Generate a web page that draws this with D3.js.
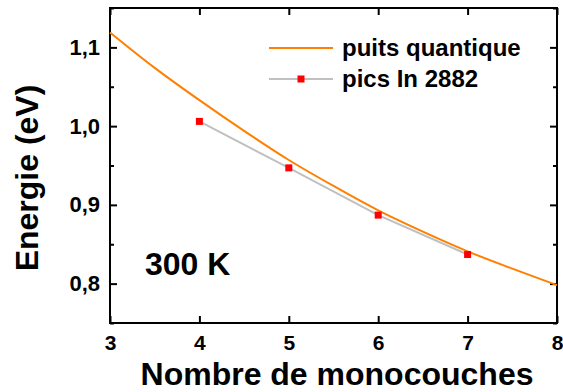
<!DOCTYPE html>
<html><head><meta charset="utf-8">
<script src="https://cdn.jsdelivr.net/npm/d3@7"></script>
<style>body{margin:0;background:#fff}svg{display:block}text{font-family:"Liberation Sans",Arial,sans-serif;font-weight:bold}</style>
</head><body>
<script>
const curveX = [3, 3.5, 4, 4.5, 5, 5.5, 6, 6.5, 7, 7.5, 8];
const curveY = [1.119, 1.074, 1.033, 0.994, 0.957, 0.924, 0.893, 0.866, 0.841, 0.819, 0.798];
const picsX = [4, 5, 6, 7];
const picsY = [1.006, 0.947, 0.887, 0.837];
const xTicks = [3, 4, 5, 6, 7, 8];
const yTicks = [0.8, 0.9, 1.0, 1.1];
const yMinor = [0.75, 0.85, 0.95, 1.05, 1.15];
const fmt = d => d3.format(".1f")(d).replace(".", ",");

const W = 563, H = 392;
const m = {l:110, r:557, t:8, b:323};
const svg = d3.select("body").append("svg").attr("width", W).attr("height", H);
const x = d3.scaleLinear().domain([3, 8]).range([m.l, m.r]);
const y = d3.scaleLinear().domain([0.75, 1.15]).range([m.b, m.t]);

// axes
const gB = svg.append("g").attr("transform", `translate(0,${m.b})`)
  .call(d3.axisBottom(x).tickValues(xTicks).tickFormat(d3.format("d")).tickSizeInner(-7).tickSizeOuter(0).tickPadding(12));
const gT = svg.append("g").attr("transform", `translate(0,${m.t})`)
  .call(d3.axisTop(x).tickValues(xTicks).tickFormat("").tickSizeInner(-7).tickSizeOuter(0));
const gL = svg.append("g").attr("transform", `translate(${m.l},0)`)
  .call(d3.axisLeft(y).tickValues(yTicks).tickFormat(fmt).tickSizeInner(-7).tickSizeOuter(0).tickPadding(10));
const gR = svg.append("g").attr("transform", `translate(${m.r},0)`)
  .call(d3.axisRight(y).tickValues(yTicks).tickFormat("").tickSizeInner(-7).tickSizeOuter(0));
svg.append("g").attr("transform", `translate(${m.l},0)`)
  .call(d3.axisLeft(y).tickValues(yMinor).tickFormat("").tickSizeInner(-4).tickSizeOuter(0));
svg.append("g").attr("transform", `translate(${m.r},0)`)
  .call(d3.axisRight(y).tickValues(yMinor).tickFormat("").tickSizeInner(-4).tickSizeOuter(0));
svg.selectAll(".domain").remove();
svg.selectAll(".tick line").attr("stroke", "#000").attr("stroke-width", 2);
gL.selectAll(".tick text").style("font-size", "22px");
gB.selectAll(".tick text").style("font-size", "21px");
svg.selectAll(".tick text").attr("fill", "#000")
  .style("font-family", '"Liberation Sans",Arial,sans-serif').style("font-weight", "bold");

svg.append("rect").attr("x", m.l).attr("y", m.t).attr("width", m.r - m.l).attr("height", m.b - m.t)
  .attr("fill", "none").attr("stroke", "#000").attr("stroke-width", 2);

// data
const curve = curveX.map((v, i) => [v, curveY[i]]);
const pics = picsX.map((v, i) => [v, picsY[i]]);
const line = d3.line().x(d => x(d[0])).y(d => y(d[1]));
svg.append("path").datum(pics).attr("d", line).attr("fill", "none").attr("stroke", "#c0c0c0").attr("stroke-width", 2);
svg.append("path").datum(curve).attr("d", line.curve(d3.curveMonotoneX)).attr("fill", "none").attr("stroke", "#ff8000").attr("stroke-width", 2);
svg.selectAll("rect.pt").data(pics).enter().append("rect").attr("class", "pt")
  .attr("x", d => x(d[0]) - 3.5).attr("y", d => y(d[1]) - 3.5).attr("width", 7).attr("height", 7).attr("fill", "#ff0000");

// legend
svg.append("line").attr("x1", 269).attr("x2", 333).attr("y1", 48).attr("y2", 48).attr("stroke", "#ff8000").attr("stroke-width", 2);
svg.append("text").attr("x", 342).attr("y", 56).attr("font-size", 24).text("puits quantique");
svg.append("line").attr("x1", 269).attr("x2", 333).attr("y1", 79).attr("y2", 79).attr("stroke", "#c0c0c0").attr("stroke-width", 2);
svg.append("rect").attr("x", 297.5).attr("y", 75.5).attr("width", 7).attr("height", 7).attr("fill", "#ff0000");
svg.append("text").attr("x", 342).attr("y", 87).attr("font-size", 24).text("pics In 2882");

// annotation
svg.append("text").attr("x", 145).attr("y", 275).attr("font-size", 32).text("300 K");

// axis titles
svg.append("text").attr("x", 337).attr("y", 385).attr("text-anchor", "middle").attr("font-size", 32).text("Nombre de monocouches");
svg.append("text").attr("transform", "translate(38,178) rotate(-90)").attr("text-anchor", "middle").attr("font-size", 32).text("Energie (eV)");
</script>
</body></html>
